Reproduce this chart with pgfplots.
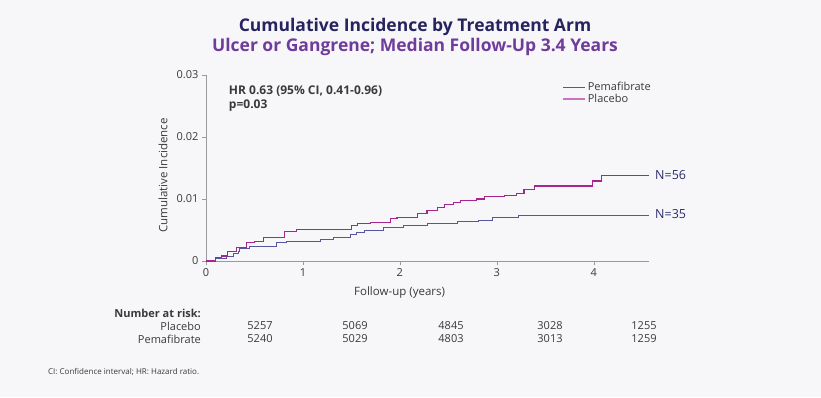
\documentclass[border=0pt]{standalone}
\usepackage{pgfplots}
\pgfplotsset{compat=1.18}
\usetikzlibrary{backgrounds}
\usepackage{fontspec}
\setmainfont{Open Sans}
\definecolor{bg}{HTML}{F7F7FA}
\definecolor{titlecol}{HTML}{27235F}
\definecolor{subcol}{HTML}{6F3C9B}
\definecolor{pema}{HTML}{5A55A2}
\definecolor{plac}{HTML}{A62590}
\definecolor{placleg}{HTML}{CC73BF}
\definecolor{axcol}{HTML}{9A9A9A}
\definecolor{txt}{HTML}{3A3A3A}
\definecolor{ncol}{HTML}{2B2A6B}
\pgfplotsset{longleg/.style={legend image code/.code={\draw[##1] (0pt,0pt) -- (22pt,0pt);}}}

\pgfplotstableread{
t y
0 0
0.10 0.0005
0.16 0.0008
0.22 0.0015
0.31 0.0022
0.42 0.0030
0.50 0.0032
0.59 0.0038
0.81 0.0047
0.93 0.0051
1.50 0.0057
1.56 0.0060
1.70 0.0062
1.90 0.0068
1.97 0.0070
2.18 0.0076
2.28 0.0081
2.39 0.0086
2.46 0.0091
2.55 0.0095
2.63 0.0097
2.79 0.0100
2.87 0.0104
3.08 0.0106
3.20 0.0109
3.28 0.0116
3.39 0.0121
3.99 0.0129
4.08 0.0138
4.57 0.0138
}\placebo

\pgfplotstableread{
t y
0 0
0.10 0.0004
0.21 0.0008
0.28 0.0012
0.33 0.0016
0.35 0.0020
0.45 0.0023
0.59 0.0024
0.73 0.0030
0.83 0.0032
1.18 0.0035
1.31 0.0038
1.49 0.0043
1.55 0.0046
1.63 0.0050
1.83 0.0054
2.04 0.0058
2.28 0.0060
2.59 0.0064
2.81 0.0066
2.96 0.0070
3.22 0.0074
4.57 0.0074
}\pema

\begin{document}
\begin{tikzpicture}
\begin{axis}[
  width=443pt, height=186pt, scale only axis,
  xmin=0, xmax=4.57, ymin=0, ymax=0.03,
  axis x line*=bottom, axis y line*=left,
  axis line style={axcol, -},
  xtick={0,1,2,3,4},
  ytick={0,0.01,0.02,0.03}, yticklabels={0,0.01,0.02,0.03},
  scaled y ticks=false,
  tick align=outside, major tick length=4pt,
  tick style={axcol, thin},
  ticklabel style={font=\fontsize{11}{13}\selectfont, text=txt},
  /pgf/number format/assume math mode=true,
  xlabel={Follow-up (years)},
  xlabel style={at={(axis description cs:0.437,0)}, anchor=center, yshift=-32pt, font=\fontsize{11.5}{13}\selectfont, text=txt},
  ylabel={Cumulative Incidence},
  ylabel style={at={(axis description cs:0,0.46)}, anchor=center, yshift=43pt, font=\fontsize{11.5}{13}\selectfont, text=txt},
  legend style={at={(axis description cs:0.797,0.985)}, anchor=north west, draw=none, fill=none,
     font=\fontsize{11}{13}\selectfont, text=txt, row sep=-2pt},
  legend cell align=left,
  longleg,
  clip=false,
]
\addlegendimage{draw=pema, line width=0.9pt}
\addlegendentry{Pemafibrate}
\addlegendimage{draw=placleg, line width=1.6pt}
\addlegendentry{Placebo}
\addplot[const plot, draw=pema, line width=0.9pt, forget plot] table[x=t,y=y]{\pema};
\addplot[const plot, draw=plac, line width=1.1pt, forget plot] table[x=t,y=y]{\placebo};
\node[anchor=west, align=left, font=\bfseries\fontsize{12}{14}\selectfont, text=txt, inner sep=0pt]
  at (axis cs:0.235,0.0262) {HR 0.63 (95\% CI, 0.41-0.96)\\p=0.03};
\node[anchor=west, font=\fontsize{12.5}{14}\selectfont, text=ncol, inner sep=0pt] at (axis cs:4.57,0.0138) [xshift=6pt] {N=56};
\node[anchor=west, font=\fontsize{12.5}{14}\selectfont, text=ncol, inner sep=0pt] at (axis cs:4.57,0.0076) [xshift=6pt] {N=35};
\coordinate (O) at (rel axis cs:0,0);
\end{axis}
\begin{scope}[shift={(O)}, x=1pt, y=1pt]
\begin{scope}[on background layer]
\fill[bg] (-206,-136) rectangle (615,261);
\end{scope}
% titles
\node[font=\bfseries\fontsize{17.5}{20}\selectfont, text=titlecol] at (209,234) {Cumulative Incidence by Treatment Arm};
\node[font=\bfseries\fontsize{17.5}{20}\selectfont, text=subcol] at (209,214) {Ulcer or Gangrene; Median Follow-Up 3.4 Years};
% risk table
\begin{scope}[every node/.style={font=\fontsize{11}{13}\selectfont, text=txt, inner sep=0pt}]
\node[anchor=east, font=\bfseries\fontsize{11}{13}\selectfont] at (-5,-52) {Number at risk:};
\node[anchor=east] at (-5,-65) {Placebo};
\node[anchor=east] at (-5,-78) {Pemafibrate};
\foreach \x/\a/\b in {54/5257/5240, 149/5069/5029, 245/4845/4803, 344/3028/3013, 438/1255/1259} {
  \node at (\x,-65) {\a};
  \node at (\x,-78) {\b};
}
\end{scope}
\node[anchor=west, font=\fontsize{8}{10}\selectfont, text=txt, inner sep=0pt] at (-158,-111) {CI: Confidence interval; HR: Hazard ratio.};
\end{scope}
\end{tikzpicture}
\end{document}
